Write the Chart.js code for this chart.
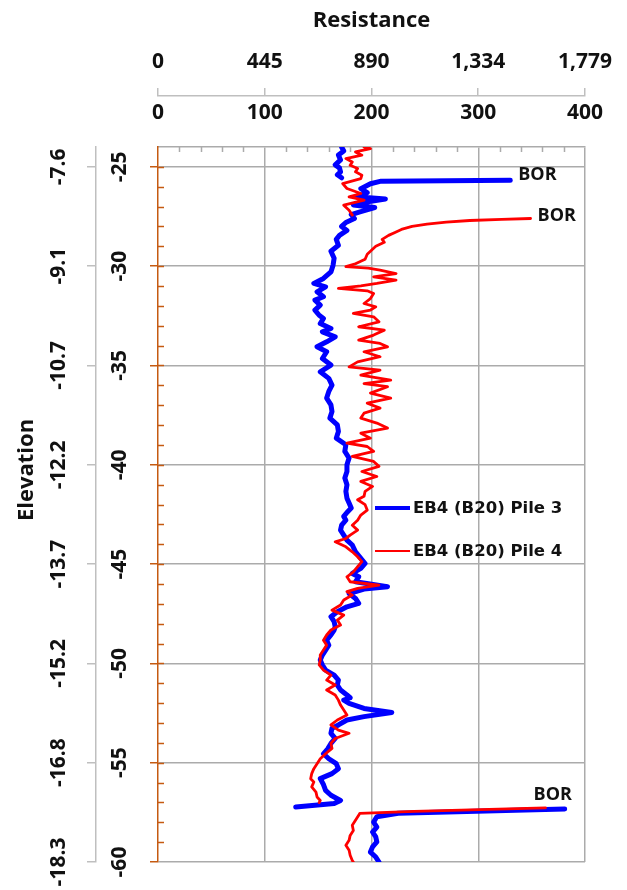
<!DOCTYPE html>
<html>
<head>
<meta charset="utf-8">
<script src="https://cdn.jsdelivr.net/npm/chart.js@4.4.0/dist/chart.umd.min.js"></script>
<style>
  html, body { margin: 0; padding: 0; background: #fff; }
</style>
</head>
<body>
<canvas id="pileChart" width="627" height="890"></canvas>
<script>
// Data (elevation in ft, resistance in kips)
// null = break in the record (restart, labelled BOR)
const pile3Elev = [
  -24.0, -24.2, -24.4, -24.65, -24.9, -25.05, -25.25, -25.4, -25.55, null,
  -25.68, -25.72, -25.85, -26.1, -26.3, -26.5, -26.62, -26.8, -26.92, -27.05,
  -27.25, -27.4, -27.6, -27.8, -28.0, -28.2, -28.45, -28.65, -28.95, -29.25,
  -29.6, -29.95, -30.29, -30.62, -30.87, -31.04, -31.29, -31.54, -31.71, -31.96,
  -32.21, -32.47, -32.63, -32.89, -33.14, -33.31, -33.56, -33.81, -34.06, -34.31,
  -34.65, -34.98, -35.32, -35.65, -35.99, -36.31, -36.64, -36.98, -37.32, -37.65,
  -37.99, -38.32, -38.66, -38.99, -39.33, -39.66, -40.0, -40.34, -40.67, -41.01,
  -41.34, -41.68, -41.93, -42.18, -42.4, -42.6, -42.79, -43.04, -43.29, -43.54,
  -43.79, -44.04, -44.38, -44.71, -44.97, -45.22, -45.47, -45.64, -45.89, -46.14,
  -46.26, -46.48, -46.73, -46.98, -47.15, -47.4, -47.65, -47.9, -48.15, -48.32,
  -48.57, -48.83, -49.08, -49.33, -49.58, -49.83, -50.08, -50.34, -50.59, -50.84,
  -51.09, -51.34, -51.59, -51.73, -51.85, -52.01, -52.27, -52.47, -52.68, -52.85,
  -53.1, -53.27, -53.52, -53.78, -54.03, -54.3, -54.55, -54.8, -55.05, -55.3,
  -55.55, -55.8, -56.1, -56.39, -56.64, -56.9, -57.06, -57.23, null,
  -57.33, -57.55, -57.72, -57.99, -58.24, -58.49, -58.74, -58.99, -59.24, -59.5,
  -59.75, -60.0
];
const pile3Res = [
  172, 174, 169, 171, 166, 170, 171, 168, 172, null,
  330, 209, 199, 190, 196, 186, 213, 192, 183, 203,
  190, 181, 184, 176, 172, 177, 170, 167, 169, 162,
  165, 164, 162, 155, 146, 157, 149, 155, 147, 152,
  147, 151, 155, 152, 162, 154, 166, 158, 149, 158,
  154, 162, 152, 160, 163, 160, 158, 162, 163, 161,
  168, 169, 167, 176, 175, 179, 177, 177, 175, 177,
  176, 177, 179, 181, 177, 174, 176, 172, 171, 174,
  177, 182, 185, 190, 194, 190, 182, 188, 185, 215,
  193, 179, 185, 188, 177, 168, 162, 165, 166, 165,
  162, 158, 160, 157, 154, 152, 154, 157, 165, 169,
  168, 171, 177, 180, 174, 179, 193, 219, 193, 177,
  169, 163, 162, 166, 162, 159, 155, 160, 167, 169,
  163, 152, 155, 157, 162, 171, 165, 129, null,
  381, 225, 205, 202, 205, 201, 204, 205, 201, 199,
  204, 207
];

const pile4Elev = [
  -24.0, -24.08, -24.25, -24.41, -24.58, -24.75, -24.92, -25.08, -25.25, -25.42,
  -25.59, -25.84, -26.09, -26.34, -26.51, -26.68, -26.93, -27.18, -27.43, null,
  -27.6, -27.64, -27.7, -27.78, -27.88, -28.0, -28.15, -28.3, -28.45, -28.65,
  -28.8, -29.0, -29.2, -29.4, -29.65, -29.9, -30.02, -30.1, -30.2, -30.37,
  -30.54, -30.7, -30.87, -30.99, -31.12, -31.24, -31.38, -31.63, -31.88, -32.05,
  -32.21, -32.38, -32.55, -32.8, -33.05, -33.22, -33.47, -33.72, -33.89, -34.06,
  -34.31, -34.56, -34.82, -35.07, -35.23, -35.49, -35.74, -35.91, -36.07, -36.39,
  -36.64, -36.9, -37.15, -37.4, -37.65, -37.9, -38.15, -38.41, -38.66, -38.91,
  -39.08, -39.33, -39.58, -39.83, -40.08, -40.34, -40.59, -40.84, -41.09, -41.34,
  -41.59, -41.76, -42.01, -42.28, -42.53, -42.79, -43.04, -43.29, -43.54, -43.71,
  -43.88, -44.13, -44.38, -44.63, -44.88, -45.13, -45.39, -45.64, -45.89, -46.06,
  -46.22, -46.39, -46.56, -46.81, -47.06, -47.32, -47.57, -47.82, -48.07, -48.32,
  -48.57, -48.83, -49.08, -49.33, -49.58, -49.83, -50.08, -50.34, -50.59, -50.84,
  -51.09, -51.34, -51.59, -51.85, -52.1, -52.35, -52.6, -52.85, -53.1, -53.36,
  -53.52, -53.78, -54.03, -54.28, -54.55, -54.8, -55.05, -55.3, -55.55, -55.81,
  -55.97, -56.22, -56.48, -56.73, -56.9, -57.01, null,
  -57.27, -57.45, -57.55, -57.65, -57.9, -58.15, -58.41, -58.66, -58.91, -59.16,
  -59.41, -59.66, -59.92, -60.0
];
const pile4Res = [
  193, 199, 185, 191, 176, 182, 180, 187, 185, 191,
  190, 173, 177, 190, 179, 193, 174, 179, 182, null,
  349, 322, 292, 270, 252, 238, 228, 222, 216, 210,
  212, 204, 200, 196, 194, 184, 176, 197, 208, 223,
  202, 223, 205, 190, 169, 196, 202, 199, 193, 204,
  199, 183, 202, 207, 188, 212, 202, 188, 208, 215,
  193, 208, 187, 179, 208, 190, 218, 193, 215, 199,
  218, 196, 208, 193, 190, 205, 215, 190, 199, 177,
  196, 202, 182, 202, 207, 191, 205, 190, 201, 194,
  193, 187, 194, 196, 190, 187, 182, 187, 180, 176,
  166, 176, 182, 187, 191, 187, 183, 177, 180, 207,
  187, 177, 182, 174, 171, 163, 174, 168, 171, 162,
  158, 155, 158, 155, 152, 152, 151, 155, 162, 158,
  166, 158, 166, 169, 171, 174, 177, 168, 162, 169,
  179, 166, 162, 163, 157, 152, 149, 146, 144, 143,
  146, 144, 148, 149, 152, 151, null,
  363, 240, 189, 188, 185, 182, 183, 180, 179, 176,
  179, 180, 182, 183
];

const seriesNames = ['EB4 (B20) Pile 3', 'EB4 (B20) Pile 4'];
const resTicks = [0, 100, 200, 300, 400];          // kips
const elevTicks = [-60, -55, -50, -45, -40, -35, -30, -25]; // ft
const KIP_TO_KN = 4.448;
const FT_TO_M = 0.3048;

const orange = '#C55A11';
const gridGray = '#ababab';
const axisGray = '#bfbfbf';
const textColor = '#111';
const labelFont = { family: '"Open Sans"', size: 21, weight: 'bold' };
const titleFont = { family: '"Open Sans"', size: 22, weight: 'bold' };

const toPoints = (elev, res) => elev.map((e, i) => ({ x: res[i], y: e }));

// minor ticks inside the plot + BOR labels + legend + Elevation title
const decorations = {
  id: 'decorations',
  beforeDatasetsDraw(chart) {
    const ctx = chart.ctx;
    const a = chart.chartArea;
    const xs = chart.scales.x, ys = chart.scales.y;
    ctx.save();
    ctx.lineWidth = 1.5;
    ctx.strokeStyle = gridGray;
    for (let v = 20; v < 400; v += 20) {
      if (v % 100 === 0) continue;
      const px = Math.round(xs.getPixelForValue(v)) + 0.5;
      ctx.beginPath(); ctx.moveTo(px, a.top); ctx.lineTo(px, a.top + 5); ctx.stroke();
    }
    ctx.strokeStyle = orange;
    for (let e = -59; e <= -25; e++) {
      const py = Math.round(ys.getPixelForValue(e)) + 0.5;
      ctx.beginPath(); ctx.moveTo(a.left, py); ctx.lineTo(a.left + 6, py); ctx.stroke();
    }
    ctx.restore();
  },
  afterDraw(chart) {
    const ctx = chart.ctx;
    ctx.save();
    ctx.fillStyle = textColor;

    // BOR labels: point right after the n-th break of a series
    const borLabels = [
      { ds: 0, n: 0, dx: 8, dy: -5, align: 'left' },
      { ds: 1, n: 0, dx: 7, dy: -3, align: 'left' },
      { ds: 0, n: 1, dx: -12, dy: -14, align: 'center' }
    ];
    ctx.font = 'bold 18px "Open Sans"';
    ctx.textBaseline = 'middle';
    borLabels.forEach(b => {
      const data = chart.data.datasets[b.ds].data;
      let count = -1, idx = -1;
      for (let i = 0; i < data.length; i++) {
        if (data[i].x === null) { count++; if (count === b.n) { idx = i + 1; break; } }
      }
      if (idx < 0) return;
      const el = chart.getDatasetMeta(b.ds).data[idx];
      ctx.textAlign = b.align;
      ctx.fillText('BOR', el.x + b.dx, el.y + b.dy);
    });

    // legend
    const lx = 375, ly = 508, gap = 43;
    chart.data.datasets.forEach((d, i) => {
      const y = ly + i * gap;
      ctx.strokeStyle = d.borderColor;
      ctx.lineWidth = i === 0 ? 4 : 2;
      ctx.beginPath(); ctx.moveTo(lx, y); ctx.lineTo(lx + 35, y); ctx.stroke();
      ctx.font = 'bold 16.5px "DejaVu Sans"';
      ctx.textAlign = 'left';
      ctx.fillText(d.label, lx + 38, y + 1);
    });

    // y title
    ctx.font = 'bold 22px "Open Sans"';
    ctx.translate(27, 470);
    ctx.rotate(-Math.PI / 2);
    ctx.textAlign = 'center';
    ctx.fillText('Elevation', 0, 0);
    ctx.restore();
  }
};

const myChart = new Chart(document.getElementById('pileChart'), {
  type: 'line',
  data: {
    datasets: [
      {
        label: seriesNames[0],
        data: toPoints(pile3Elev, pile3Res),
        borderColor: '#0000FF',
        borderWidth: 5,
        order: 1
      },
      {
        label: seriesNames[1],
        data: toPoints(pile4Elev, pile4Res),
        borderColor: '#FF0000',
        borderWidth: 2.8,
        order: 0
      }
    ]
  },
  options: {
    responsive: false,
    animation: false,
    devicePixelRatio: 1,
    spanGaps: false,
    layout: { padding: { top: 0, left: 0, right: 42, bottom: 28 } },
    elements: {
      point: { radius: 0, hoverRadius: 0 },
      line: { tension: 0, fill: false, borderJoinStyle: 'round', borderCapStyle: 'round' }
    },
    plugins: { legend: { display: false }, tooltip: { enabled: false } },
    scales: {
      x: {
        type: 'linear', position: 'top', weight: 0,
        min: 0, max: 400,
        afterBuildTicks: s => { s.ticks = resTicks.map(v => ({ value: v })); },
        ticks: { font: labelFont, color: textColor, padding: 21, autoSkip: false, maxRotation: 0, callback: v => String(v) },
        grid: {
          color: c => (c.tick && c.tick.value === 0) ? 'rgba(0,0,0,0)' : gridGray,
          lineWidth: 1.5, drawTicks: false
        },
        border: { display: true, color: gridGray, width: 1.5 },
        afterFit: s => { s.height = 51; }
      },
      x2: {
        type: 'linear', position: 'top', weight: 1,
        min: 0, max: 400 * KIP_TO_KN,
        afterBuildTicks: s => { s.ticks = resTicks.map(v => ({ value: v * KIP_TO_KN })); },
        ticks: {
          font: labelFont, color: textColor, padding: 13, autoSkip: false, maxRotation: 0,
          callback: v => Math.round(v).toLocaleString('en-US')
        },
        grid: { drawOnChartArea: false, color: axisGray, tickLength: 8, lineWidth: 1.5 },
        border: { color: axisGray, width: 1.5 },
        title: { display: true, text: 'Resistance', font: titleFont, color: textColor, padding: { top: 8, bottom: 0 } },
        afterFit: s => { s.height = 96; }
      },
      y: {
        type: 'linear', position: 'left', weight: 0,
        min: -60, max: -24,
        afterBuildTicks: s => { s.ticks = elevTicks.map(v => ({ value: v })); },
        ticks: {
          font: labelFont, color: textColor, minRotation: 90, maxRotation: 90,
          crossAlign: 'center', padding: 15, autoSkip: false, callback: v => String(v)
        },
        grid: { color: gridGray, lineWidth: 1.5, tickColor: orange, tickLength: 8, tickWidth: 1.5 },
        border: { color: orange, width: 1.5 },
        afterFit: s => { s.width = 62; }
      },
      y2: {
        type: 'linear', position: 'left', weight: 1,
        min: -60 * FT_TO_M, max: -24 * FT_TO_M,
        afterBuildTicks: s => { s.ticks = elevTicks.map(v => ({ value: v * FT_TO_M })); },
        ticks: {
          font: labelFont, color: textColor, minRotation: 90, maxRotation: 90,
          crossAlign: 'center', padding: 4, autoSkip: false, callback: v => v.toFixed(1)
        },
        grid: { drawOnChartArea: false, color: axisGray, tickLength: 9, lineWidth: 1.5 },
        border: { color: axisGray, width: 1.5 },
        afterFit: s => { s.width = 96; }
      }
    }
  },
  plugins: [decorations]
});
</script>
</body>
</html>
